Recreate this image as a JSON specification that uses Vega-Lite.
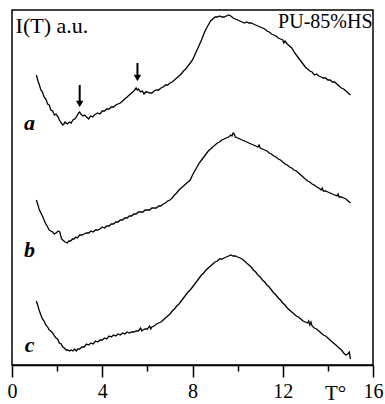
{
  "$schema": "https://vega.github.io/schema/vega-lite/v6.json",
  "width": 361,
  "height": 355,
  "autosize": {"type": "none"},
  "padding": {"left": 12, "top": 10, "right": 12, "bottom": 39},
  "config": {"view": {"stroke": "black", "strokeWidth": 1.5}, "font": "Liberation Serif"},
  "datasets": {
    "curves": [
      {"curve": "a", "T": 1.08, "I": 290}, {"curve": "a", "T": 1.15, "I": 284}, {"curve": "a", "T": 1.2, "I": 281}, {"curve": "a", "T": 1.28, "I": 275}, {"curve": "a", "T": 1.35, "I": 273}, {"curve": "a", "T": 1.42, "I": 268}, {"curve": "a", "T": 1.5, "I": 266}, {"curve": "a", "T": 1.58, "I": 261}, {"curve": "a", "T": 1.65, "I": 260}, {"curve": "a", "T": 1.72, "I": 255}, {"curve": "a", "T": 1.8, "I": 254}, {"curve": "a", "T": 1.88, "I": 250}, {"curve": "a", "T": 1.95, "I": 251}, {"curve": "a", "T": 2.05, "I": 248}, {"curve": "a", "T": 2.1, "I": 245}, {"curve": "a", "T": 2.15, "I": 243}, {"curve": "a", "T": 2.25, "I": 240}, {"curve": "a", "T": 2.3, "I": 241}, {"curve": "a", "T": 2.35, "I": 243}, {"curve": "a", "T": 2.45, "I": 241}, {"curve": "a", "T": 2.55, "I": 243}, {"curve": "a", "T": 2.62, "I": 242}, {"curve": "a", "T": 2.7, "I": 245}, {"curve": "a", "T": 2.78, "I": 246}, {"curve": "a", "T": 2.85, "I": 248}, {"curve": "a", "T": 2.95, "I": 252}, {"curve": "a", "T": 3.0, "I": 253}, {"curve": "a", "T": 3.05, "I": 251}, {"curve": "a", "T": 3.15, "I": 249}, {"curve": "a", "T": 3.22, "I": 250}, {"curve": "a", "T": 3.3, "I": 248}, {"curve": "a", "T": 3.4, "I": 246}, {"curve": "a", "T": 3.45, "I": 248}, {"curve": "a", "T": 3.5, "I": 249}, {"curve": "a", "T": 3.58, "I": 248}, {"curve": "a", "T": 3.65, "I": 250}, {"curve": "a", "T": 3.72, "I": 251}, {"curve": "a", "T": 3.8, "I": 252}, {"curve": "a", "T": 3.9, "I": 251}, {"curve": "a", "T": 4.0, "I": 254}, {"curve": "a", "T": 4.1, "I": 254}, {"curve": "a", "T": 4.2, "I": 256}, {"curve": "a", "T": 4.3, "I": 256}, {"curve": "a", "T": 4.4, "I": 258}, {"curve": "a", "T": 4.5, "I": 258}, {"curve": "a", "T": 4.6, "I": 260}, {"curve": "a", "T": 4.7, "I": 261}, {"curve": "a", "T": 4.8, "I": 262}, {"curve": "a", "T": 4.9, "I": 264}, {"curve": "a", "T": 5.0, "I": 266}, {"curve": "a", "T": 5.1, "I": 268}, {"curve": "a", "T": 5.2, "I": 270}, {"curve": "a", "T": 5.3, "I": 272}, {"curve": "a", "T": 5.4, "I": 274}, {"curve": "a", "T": 5.5, "I": 277}, {"curve": "a", "T": 5.55, "I": 275}, {"curve": "a", "T": 5.6, "I": 276}, {"curve": "a", "T": 5.7, "I": 273}, {"curve": "a", "T": 5.78, "I": 274}, {"curve": "a", "T": 5.85, "I": 271}, {"curve": "a", "T": 5.92, "I": 273}, {"curve": "a", "T": 6.0, "I": 273}, {"curve": "a", "T": 6.1, "I": 272}, {"curve": "a", "T": 6.2, "I": 272}, {"curve": "a", "T": 6.3, "I": 274}, {"curve": "a", "T": 6.4, "I": 275}, {"curve": "a", "T": 6.5, "I": 275}, {"curve": "a", "T": 6.6, "I": 277}, {"curve": "a", "T": 6.7, "I": 278}, {"curve": "a", "T": 6.8, "I": 280}, {"curve": "a", "T": 6.9, "I": 280}, {"curve": "a", "T": 7.0, "I": 282}, {"curve": "a", "T": 7.1, "I": 283}, {"curve": "a", "T": 7.2, "I": 285}, {"curve": "a", "T": 7.3, "I": 287}, {"curve": "a", "T": 7.4, "I": 289}, {"curve": "a", "T": 7.5, "I": 291}, {"curve": "a", "T": 7.6, "I": 294}, {"curve": "a", "T": 7.7, "I": 296}, {"curve": "a", "T": 7.8, "I": 299}, {"curve": "a", "T": 7.9, "I": 302}, {"curve": "a", "T": 8.0, "I": 305}, {"curve": "a", "T": 8.1, "I": 310}, {"curve": "a", "T": 8.2, "I": 315}, {"curve": "a", "T": 8.3, "I": 320}, {"curve": "a", "T": 8.4, "I": 325}, {"curve": "a", "T": 8.5, "I": 331}, {"curve": "a", "T": 8.6, "I": 336}, {"curve": "a", "T": 8.7, "I": 340}, {"curve": "a", "T": 8.8, "I": 344}, {"curve": "a", "T": 8.9, "I": 346}, {"curve": "a", "T": 9.0, "I": 348}, {"curve": "a", "T": 9.1, "I": 348}, {"curve": "a", "T": 9.2, "I": 349}, {"curve": "a", "T": 9.3, "I": 348}, {"curve": "a", "T": 9.4, "I": 348}, {"curve": "a", "T": 9.5, "I": 349}, {"curve": "a", "T": 9.6, "I": 350}, {"curve": "a", "T": 9.7, "I": 349}, {"curve": "a", "T": 9.8, "I": 347}, {"curve": "a", "T": 9.9, "I": 346}, {"curve": "a", "T": 10.0, "I": 345}, {"curve": "a", "T": 10.1, "I": 344}, {"curve": "a", "T": 10.2, "I": 343}, {"curve": "a", "T": 10.3, "I": 342}, {"curve": "a", "T": 10.4, "I": 343}, {"curve": "a", "T": 10.5, "I": 342}, {"curve": "a", "T": 10.6, "I": 342}, {"curve": "a", "T": 10.7, "I": 341}, {"curve": "a", "T": 10.8, "I": 340}, {"curve": "a", "T": 10.9, "I": 339}, {"curve": "a", "T": 11.0, "I": 338}, {"curve": "a", "T": 11.1, "I": 337}, {"curve": "a", "T": 11.2, "I": 336}, {"curve": "a", "T": 11.3, "I": 334}, {"curve": "a", "T": 11.4, "I": 333}, {"curve": "a", "T": 11.5, "I": 331}, {"curve": "a", "T": 11.6, "I": 330}, {"curve": "a", "T": 11.7, "I": 329}, {"curve": "a", "T": 11.8, "I": 327}, {"curve": "a", "T": 11.9, "I": 326}, {"curve": "a", "T": 12.0, "I": 325}, {"curve": "a", "T": 12.05, "I": 322}, {"curve": "a", "T": 12.1, "I": 324}, {"curve": "a", "T": 12.2, "I": 321}, {"curve": "a", "T": 12.3, "I": 319}, {"curve": "a", "T": 12.4, "I": 317}, {"curve": "a", "T": 12.5, "I": 313}, {"curve": "a", "T": 12.6, "I": 310}, {"curve": "a", "T": 12.7, "I": 307}, {"curve": "a", "T": 12.8, "I": 304}, {"curve": "a", "T": 12.9, "I": 301}, {"curve": "a", "T": 13.0, "I": 298}, {"curve": "a", "T": 13.1, "I": 296}, {"curve": "a", "T": 13.2, "I": 294}, {"curve": "a", "T": 13.3, "I": 293}, {"curve": "a", "T": 13.4, "I": 290}, {"curve": "a", "T": 13.5, "I": 291}, {"curve": "a", "T": 13.6, "I": 289}, {"curve": "a", "T": 13.7, "I": 288}, {"curve": "a", "T": 13.8, "I": 287}, {"curve": "a", "T": 13.9, "I": 287}, {"curve": "a", "T": 14.0, "I": 285}, {"curve": "a", "T": 14.1, "I": 285}, {"curve": "a", "T": 14.2, "I": 283}, {"curve": "a", "T": 14.3, "I": 283}, {"curve": "a", "T": 14.4, "I": 281}, {"curve": "a", "T": 14.5, "I": 279}, {"curve": "a", "T": 14.6, "I": 277}, {"curve": "a", "T": 14.7, "I": 276}, {"curve": "a", "T": 14.8, "I": 274}, {"curve": "a", "T": 14.9, "I": 272}, {"curve": "a", "T": 15.0, "I": 270},
      {"curve": "b", "T": 1.08, "I": 165}, {"curve": "b", "T": 1.15, "I": 160}, {"curve": "b", "T": 1.2, "I": 156}, {"curve": "b", "T": 1.28, "I": 152}, {"curve": "b", "T": 1.35, "I": 149}, {"curve": "b", "T": 1.42, "I": 145}, {"curve": "b", "T": 1.5, "I": 141}, {"curve": "b", "T": 1.58, "I": 138}, {"curve": "b", "T": 1.65, "I": 135}, {"curve": "b", "T": 1.72, "I": 134}, {"curve": "b", "T": 1.8, "I": 133}, {"curve": "b", "T": 1.88, "I": 131}, {"curve": "b", "T": 1.95, "I": 132}, {"curve": "b", "T": 2.05, "I": 134}, {"curve": "b", "T": 2.12, "I": 133}, {"curve": "b", "T": 2.15, "I": 130}, {"curve": "b", "T": 2.2, "I": 126}, {"curve": "b", "T": 2.25, "I": 125}, {"curve": "b", "T": 2.35, "I": 123}, {"curve": "b", "T": 2.45, "I": 122}, {"curve": "b", "T": 2.52, "I": 124}, {"curve": "b", "T": 2.6, "I": 124}, {"curve": "b", "T": 2.68, "I": 126}, {"curve": "b", "T": 2.75, "I": 126}, {"curve": "b", "T": 2.82, "I": 128}, {"curve": "b", "T": 2.9, "I": 127}, {"curve": "b", "T": 3.0, "I": 130}, {"curve": "b", "T": 3.1, "I": 130}, {"curve": "b", "T": 3.2, "I": 131}, {"curve": "b", "T": 3.3, "I": 132}, {"curve": "b", "T": 3.4, "I": 132}, {"curve": "b", "T": 3.5, "I": 134}, {"curve": "b", "T": 3.6, "I": 133}, {"curve": "b", "T": 3.7, "I": 135}, {"curve": "b", "T": 3.8, "I": 135}, {"curve": "b", "T": 3.9, "I": 136}, {"curve": "b", "T": 4.0, "I": 138}, {"curve": "b", "T": 4.1, "I": 137}, {"curve": "b", "T": 4.2, "I": 139}, {"curve": "b", "T": 4.3, "I": 139}, {"curve": "b", "T": 4.4, "I": 141}, {"curve": "b", "T": 4.5, "I": 141}, {"curve": "b", "T": 4.6, "I": 143}, {"curve": "b", "T": 4.7, "I": 143}, {"curve": "b", "T": 4.8, "I": 145}, {"curve": "b", "T": 4.9, "I": 145}, {"curve": "b", "T": 5.0, "I": 147}, {"curve": "b", "T": 5.1, "I": 147}, {"curve": "b", "T": 5.2, "I": 149}, {"curve": "b", "T": 5.3, "I": 149}, {"curve": "b", "T": 5.4, "I": 151}, {"curve": "b", "T": 5.5, "I": 151}, {"curve": "b", "T": 5.6, "I": 153}, {"curve": "b", "T": 5.7, "I": 153}, {"curve": "b", "T": 5.8, "I": 153}, {"curve": "b", "T": 5.9, "I": 155}, {"curve": "b", "T": 6.0, "I": 155}, {"curve": "b", "T": 6.1, "I": 155}, {"curve": "b", "T": 6.2, "I": 157}, {"curve": "b", "T": 6.3, "I": 157}, {"curve": "b", "T": 6.4, "I": 157}, {"curve": "b", "T": 6.5, "I": 159}, {"curve": "b", "T": 6.6, "I": 159}, {"curve": "b", "T": 6.7, "I": 161}, {"curve": "b", "T": 6.8, "I": 162}, {"curve": "b", "T": 6.9, "I": 164}, {"curve": "b", "T": 7.0, "I": 165}, {"curve": "b", "T": 7.1, "I": 167}, {"curve": "b", "T": 7.2, "I": 170}, {"curve": "b", "T": 7.3, "I": 172}, {"curve": "b", "T": 7.4, "I": 175}, {"curve": "b", "T": 7.5, "I": 177}, {"curve": "b", "T": 7.6, "I": 179}, {"curve": "b", "T": 7.7, "I": 181}, {"curve": "b", "T": 7.8, "I": 183}, {"curve": "b", "T": 7.9, "I": 185}, {"curve": "b", "T": 8.0, "I": 190}, {"curve": "b", "T": 8.1, "I": 194}, {"curve": "b", "T": 8.2, "I": 198}, {"curve": "b", "T": 8.3, "I": 202}, {"curve": "b", "T": 8.4, "I": 205}, {"curve": "b", "T": 8.5, "I": 208}, {"curve": "b", "T": 8.6, "I": 211}, {"curve": "b", "T": 8.7, "I": 214}, {"curve": "b", "T": 8.8, "I": 216}, {"curve": "b", "T": 8.9, "I": 218}, {"curve": "b", "T": 9.0, "I": 220}, {"curve": "b", "T": 9.1, "I": 222}, {"curve": "b", "T": 9.2, "I": 223}, {"curve": "b", "T": 9.3, "I": 225}, {"curve": "b", "T": 9.4, "I": 226}, {"curve": "b", "T": 9.5, "I": 227}, {"curve": "b", "T": 9.6, "I": 228}, {"curve": "b", "T": 9.7, "I": 230}, {"curve": "b", "T": 9.75, "I": 229}, {"curve": "b", "T": 9.8, "I": 232}, {"curve": "b", "T": 9.85, "I": 231}, {"curve": "b", "T": 9.9, "I": 228}, {"curve": "b", "T": 10.0, "I": 227}, {"curve": "b", "T": 10.1, "I": 226}, {"curve": "b", "T": 10.2, "I": 225}, {"curve": "b", "T": 10.3, "I": 224}, {"curve": "b", "T": 10.4, "I": 223}, {"curve": "b", "T": 10.5, "I": 222}, {"curve": "b", "T": 10.6, "I": 221}, {"curve": "b", "T": 10.7, "I": 220}, {"curve": "b", "T": 10.8, "I": 219}, {"curve": "b", "T": 10.9, "I": 218}, {"curve": "b", "T": 10.95, "I": 220}, {"curve": "b", "T": 11.0, "I": 217}, {"curve": "b", "T": 11.1, "I": 216}, {"curve": "b", "T": 11.2, "I": 215}, {"curve": "b", "T": 11.3, "I": 214}, {"curve": "b", "T": 11.4, "I": 212}, {"curve": "b", "T": 11.5, "I": 211}, {"curve": "b", "T": 11.6, "I": 209}, {"curve": "b", "T": 11.7, "I": 208}, {"curve": "b", "T": 11.8, "I": 206}, {"curve": "b", "T": 11.9, "I": 205}, {"curve": "b", "T": 12.0, "I": 203}, {"curve": "b", "T": 12.1, "I": 201}, {"curve": "b", "T": 12.2, "I": 200}, {"curve": "b", "T": 12.3, "I": 198}, {"curve": "b", "T": 12.4, "I": 197}, {"curve": "b", "T": 12.5, "I": 195}, {"curve": "b", "T": 12.6, "I": 194}, {"curve": "b", "T": 12.7, "I": 192}, {"curve": "b", "T": 12.8, "I": 190}, {"curve": "b", "T": 12.9, "I": 188}, {"curve": "b", "T": 13.0, "I": 186}, {"curve": "b", "T": 13.1, "I": 184}, {"curve": "b", "T": 13.2, "I": 183}, {"curve": "b", "T": 13.3, "I": 181}, {"curve": "b", "T": 13.4, "I": 180}, {"curve": "b", "T": 13.5, "I": 178}, {"curve": "b", "T": 13.6, "I": 177}, {"curve": "b", "T": 13.7, "I": 175}, {"curve": "b", "T": 13.75, "I": 177}, {"curve": "b", "T": 13.8, "I": 174}, {"curve": "b", "T": 13.9, "I": 174}, {"curve": "b", "T": 14.0, "I": 173}, {"curve": "b", "T": 14.1, "I": 172}, {"curve": "b", "T": 14.2, "I": 171}, {"curve": "b", "T": 14.3, "I": 170}, {"curve": "b", "T": 14.4, "I": 169}, {"curve": "b", "T": 14.45, "I": 171}, {"curve": "b", "T": 14.5, "I": 168}, {"curve": "b", "T": 14.6, "I": 168}, {"curve": "b", "T": 14.7, "I": 167}, {"curve": "b", "T": 14.8, "I": 166}, {"curve": "b", "T": 14.9, "I": 164}, {"curve": "b", "T": 15.0, "I": 162},
      {"curve": "c", "T": 1.08, "I": 64}, {"curve": "c", "T": 1.15, "I": 59}, {"curve": "c", "T": 1.2, "I": 55}, {"curve": "c", "T": 1.28, "I": 50}, {"curve": "c", "T": 1.35, "I": 46}, {"curve": "c", "T": 1.42, "I": 44}, {"curve": "c", "T": 1.5, "I": 40}, {"curve": "c", "T": 1.58, "I": 38}, {"curve": "c", "T": 1.65, "I": 35}, {"curve": "c", "T": 1.72, "I": 34}, {"curve": "c", "T": 1.8, "I": 32}, {"curve": "c", "T": 1.88, "I": 29}, {"curve": "c", "T": 1.95, "I": 27}, {"curve": "c", "T": 2.02, "I": 26}, {"curve": "c", "T": 2.1, "I": 22}, {"curve": "c", "T": 2.18, "I": 21}, {"curve": "c", "T": 2.25, "I": 18}, {"curve": "c", "T": 2.32, "I": 17}, {"curve": "c", "T": 2.4, "I": 15}, {"curve": "c", "T": 2.48, "I": 15}, {"curve": "c", "T": 2.55, "I": 14}, {"curve": "c", "T": 2.62, "I": 15}, {"curve": "c", "T": 2.7, "I": 14}, {"curve": "c", "T": 2.78, "I": 16}, {"curve": "c", "T": 2.85, "I": 14}, {"curve": "c", "T": 2.92, "I": 16}, {"curve": "c", "T": 3.0, "I": 16}, {"curve": "c", "T": 3.1, "I": 18}, {"curve": "c", "T": 3.2, "I": 18}, {"curve": "c", "T": 3.3, "I": 21}, {"curve": "c", "T": 3.4, "I": 20}, {"curve": "c", "T": 3.5, "I": 22}, {"curve": "c", "T": 3.6, "I": 21}, {"curve": "c", "T": 3.7, "I": 24}, {"curve": "c", "T": 3.8, "I": 23}, {"curve": "c", "T": 3.9, "I": 25}, {"curve": "c", "T": 4.0, "I": 25}, {"curve": "c", "T": 4.1, "I": 27}, {"curve": "c", "T": 4.2, "I": 26}, {"curve": "c", "T": 4.3, "I": 29}, {"curve": "c", "T": 4.4, "I": 28}, {"curve": "c", "T": 4.5, "I": 30}, {"curve": "c", "T": 4.6, "I": 29}, {"curve": "c", "T": 4.7, "I": 31}, {"curve": "c", "T": 4.8, "I": 30}, {"curve": "c", "T": 4.9, "I": 32}, {"curve": "c", "T": 5.0, "I": 31}, {"curve": "c", "T": 5.1, "I": 33}, {"curve": "c", "T": 5.2, "I": 32}, {"curve": "c", "T": 5.3, "I": 33}, {"curve": "c", "T": 5.4, "I": 33}, {"curve": "c", "T": 5.5, "I": 34}, {"curve": "c", "T": 5.6, "I": 34}, {"curve": "c", "T": 5.7, "I": 37}, {"curve": "c", "T": 5.75, "I": 34}, {"curve": "c", "T": 5.8, "I": 35}, {"curve": "c", "T": 5.9, "I": 36}, {"curve": "c", "T": 6.0, "I": 36}, {"curve": "c", "T": 6.1, "I": 39}, {"curve": "c", "T": 6.15, "I": 36}, {"curve": "c", "T": 6.2, "I": 38}, {"curve": "c", "T": 6.3, "I": 39}, {"curve": "c", "T": 6.4, "I": 41}, {"curve": "c", "T": 6.5, "I": 42}, {"curve": "c", "T": 6.6, "I": 43}, {"curve": "c", "T": 6.7, "I": 45}, {"curve": "c", "T": 6.8, "I": 47}, {"curve": "c", "T": 6.9, "I": 49}, {"curve": "c", "T": 7.0, "I": 51}, {"curve": "c", "T": 7.1, "I": 54}, {"curve": "c", "T": 7.2, "I": 56}, {"curve": "c", "T": 7.3, "I": 59}, {"curve": "c", "T": 7.4, "I": 61}, {"curve": "c", "T": 7.5, "I": 64}, {"curve": "c", "T": 7.6, "I": 67}, {"curve": "c", "T": 7.7, "I": 70}, {"curve": "c", "T": 7.8, "I": 73}, {"curve": "c", "T": 7.9, "I": 75}, {"curve": "c", "T": 8.0, "I": 78}, {"curve": "c", "T": 8.1, "I": 81}, {"curve": "c", "T": 8.2, "I": 84}, {"curve": "c", "T": 8.3, "I": 87}, {"curve": "c", "T": 8.4, "I": 90}, {"curve": "c", "T": 8.5, "I": 92}, {"curve": "c", "T": 8.6, "I": 95}, {"curve": "c", "T": 8.7, "I": 97}, {"curve": "c", "T": 8.8, "I": 99}, {"curve": "c", "T": 8.9, "I": 101}, {"curve": "c", "T": 9.0, "I": 103}, {"curve": "c", "T": 9.1, "I": 104}, {"curve": "c", "T": 9.2, "I": 106}, {"curve": "c", "T": 9.3, "I": 106}, {"curve": "c", "T": 9.4, "I": 107}, {"curve": "c", "T": 9.5, "I": 108}, {"curve": "c", "T": 9.6, "I": 109}, {"curve": "c", "T": 9.7, "I": 110}, {"curve": "c", "T": 9.8, "I": 109}, {"curve": "c", "T": 9.9, "I": 109}, {"curve": "c", "T": 10.0, "I": 108}, {"curve": "c", "T": 10.1, "I": 107}, {"curve": "c", "T": 10.2, "I": 106}, {"curve": "c", "T": 10.3, "I": 104}, {"curve": "c", "T": 10.4, "I": 102}, {"curve": "c", "T": 10.5, "I": 100}, {"curve": "c", "T": 10.6, "I": 98}, {"curve": "c", "T": 10.7, "I": 95}, {"curve": "c", "T": 10.8, "I": 93}, {"curve": "c", "T": 10.9, "I": 90}, {"curve": "c", "T": 11.0, "I": 88}, {"curve": "c", "T": 11.1, "I": 85}, {"curve": "c", "T": 11.2, "I": 83}, {"curve": "c", "T": 11.3, "I": 80}, {"curve": "c", "T": 11.4, "I": 78}, {"curve": "c", "T": 11.5, "I": 75}, {"curve": "c", "T": 11.6, "I": 72}, {"curve": "c", "T": 11.7, "I": 70}, {"curve": "c", "T": 11.8, "I": 67}, {"curve": "c", "T": 11.9, "I": 65}, {"curve": "c", "T": 12.0, "I": 62}, {"curve": "c", "T": 12.1, "I": 60}, {"curve": "c", "T": 12.2, "I": 57}, {"curve": "c", "T": 12.3, "I": 55}, {"curve": "c", "T": 12.4, "I": 53}, {"curve": "c", "T": 12.5, "I": 51}, {"curve": "c", "T": 12.6, "I": 49}, {"curve": "c", "T": 12.7, "I": 48}, {"curve": "c", "T": 12.8, "I": 46}, {"curve": "c", "T": 12.9, "I": 44}, {"curve": "c", "T": 13.0, "I": 43}, {"curve": "c", "T": 13.1, "I": 42}, {"curve": "c", "T": 13.15, "I": 44}, {"curve": "c", "T": 13.2, "I": 40}, {"curve": "c", "T": 13.25, "I": 43}, {"curve": "c", "T": 13.3, "I": 39}, {"curve": "c", "T": 13.4, "I": 37}, {"curve": "c", "T": 13.5, "I": 36}, {"curve": "c", "T": 13.6, "I": 34}, {"curve": "c", "T": 13.7, "I": 32}, {"curve": "c", "T": 13.8, "I": 30}, {"curve": "c", "T": 13.9, "I": 29}, {"curve": "c", "T": 14.0, "I": 27}, {"curve": "c", "T": 14.1, "I": 25}, {"curve": "c", "T": 14.2, "I": 23}, {"curve": "c", "T": 14.3, "I": 21}, {"curve": "c", "T": 14.4, "I": 19}, {"curve": "c", "T": 14.5, "I": 17}, {"curve": "c", "T": 14.6, "I": 15}, {"curve": "c", "T": 14.7, "I": 12}, {"curve": "c", "T": 14.8, "I": 10}, {"curve": "c", "T": 14.88, "I": 11}, {"curve": "c", "T": 14.95, "I": 13}, {"curve": "c", "T": 15.0, "I": 6}
    ],
    "arrows": [
      {"T": 3.0, "top": 280, "bottom": 264, "head": 261},
      {"T": 5.56, "top": 302, "bottom": 290, "head": 287}
    ],
    "curveLabels": [
      {"T": 0.78, "I": 242, "text": "a"},
      {"T": 0.78, "I": 115, "text": "b"},
      {"T": 0.78, "I": 20, "text": "c"}
    ],
    "notes": [
      {"T": 0.16, "I": 332, "text": "I(T) a.u.", "side": "left"},
      {"T": 15.98, "I": 337, "text": "PU-85%HS", "side": "right"}
    ]
  },
  "layer": [
    {
      "data": {"name": "curves"},
      "mark": {"type": "line", "color": "black", "strokeWidth": 1.3},
      "encoding": {
        "x": {
          "field": "T", "type": "quantitative",
          "scale": {"domain": [0, 16], "nice": false},
          "axis": {
            "values": [0, 2, 4, 6, 8, 10, 12, 14, 16],
            "labelExpr": "datum.value % 4 === 0 ? datum.label : ''",
            "tickSize": {"condition": {"test": "datum.value % 4 === 0", "value": 12}, "value": 6},
            "tickColor": "black", "tickWidth": 1.5,
            "domainColor": "black", "domainWidth": 1.5,
            "labelFontSize": 20, "labelColor": "black", "labelFont": "Liberation Serif",
            "labelPadding": 4, "labelFlush": false, "labelOverlap": false,
            "grid": false,
            "title": "T°", "titleFontSize": 21, "titleFontWeight": "normal", "titleColor": "black",
            "titleFont": "Liberation Serif",
            "titleX": 323, "titleY": 34, "titleBaseline": "alphabetic", "titleAlign": "center"
          }
        },
        "y": {"field": "I", "type": "quantitative", "scale": {"domain": [0, 355], "nice": false}, "axis": null},
        "detail": {"field": "curve"}
      }
    },
    {
      "data": {"name": "arrows"},
      "mark": {"type": "rule", "color": "black", "strokeWidth": 2},
      "encoding": {
        "x": {"field": "T", "type": "quantitative"},
        "y": {"field": "top", "type": "quantitative"},
        "y2": {"field": "bottom"}
      }
    },
    {
      "data": {"name": "arrows"},
      "mark": {"type": "point", "shape": "triangle-down", "filled": true, "color": "black", "size": 55, "opacity": 1},
      "encoding": {
        "x": {"field": "T", "type": "quantitative"},
        "y": {"field": "head", "type": "quantitative"}
      }
    },
    {
      "data": {"name": "curveLabels"},
      "mark": {"type": "text", "font": "Liberation Serif", "fontSize": 22, "fontWeight": "bold", "fontStyle": "italic", "color": "black", "align": "center", "baseline": "middle"},
      "encoding": {
        "x": {"field": "T", "type": "quantitative"},
        "y": {"field": "I", "type": "quantitative"},
        "text": {"field": "text"}
      }
    },
    {
      "data": {"name": "notes"},
      "transform": [{"filter": "datum.side === 'left'"}],
      "mark": {"type": "text", "font": "Liberation Serif", "fontSize": 22, "color": "black", "align": "left", "baseline": "alphabetic"},
      "encoding": {
        "x": {"field": "T", "type": "quantitative"},
        "y": {"field": "I", "type": "quantitative"},
        "text": {"field": "text"}
      }
    },
    {
      "data": {"name": "notes"},
      "transform": [{"filter": "datum.side === 'right'"}],
      "mark": {"type": "text", "font": "Liberation Serif", "fontSize": 20, "color": "black", "align": "right", "baseline": "alphabetic"},
      "encoding": {
        "x": {"field": "T", "type": "quantitative"},
        "y": {"field": "I", "type": "quantitative"},
        "text": {"field": "text"}
      }
    }
  ]
}
